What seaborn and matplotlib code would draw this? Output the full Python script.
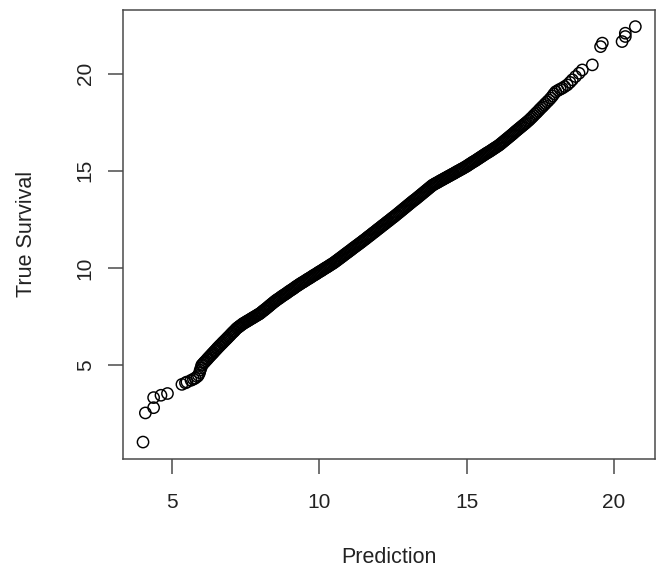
import matplotlib
matplotlib.use("Agg")
import matplotlib.pyplot as plt
import seaborn as sns
import numpy as np
import pandas as pd

# Sorted model predictions (x) against the observed survival times (y)
prediction = [
    4.01, 4.09, 4.37, 4.37, 4.62, 4.84,
    5.33, 5.45, 5.50, 5.64, 5.72, 5.78, 5.85, 5.89, 5.93, 5.95, 5.98, 6.00,
    6.03, 6.07, 6.10, 6.14, 6.18, 6.21, 6.25, 6.29, 6.33, 6.37, 6.40, 6.44, 6.48, 6.52, 6.55, 6.59, 6.62,
    6.66, 6.70, 6.73, 6.77, 6.81, 6.85, 6.88, 6.92, 6.96, 7.00, 7.04, 7.08, 7.11, 7.15, 7.19,
    7.23, 7.27, 7.30, 7.34, 7.38, 7.41,
    7.45, 7.49, 7.53, 7.56, 7.60, 7.64, 7.68, 7.72, 7.75, 7.79, 7.83, 7.87, 7.91, 7.94, 7.98,
    8.02, 8.06, 8.10, 8.13, 8.17, 8.21, 8.25, 8.29, 8.32, 8.36, 8.40, 8.44, 8.48, 8.51, 8.54,
    8.58, 8.62, 8.66, 8.70, 8.74, 8.78, 8.82, 8.86, 8.90, 8.94, 8.98, 9.02, 9.06, 9.10, 9.14,
    9.18, 9.22, 9.26, 9.30, 9.33,
    9.37, 9.41, 9.45, 9.49, 9.53, 9.57, 9.61, 9.65, 9.69, 9.73, 9.77, 9.81, 9.85, 9.89, 9.93,
    9.97, 10.01, 10.05, 10.09, 10.13, 10.17, 10.21, 10.25, 10.29, 10.33, 10.37, 10.41, 10.46,
    10.50, 10.54, 10.58, 10.62, 10.66, 10.70, 10.74, 10.78, 10.82, 10.86, 10.90, 10.94, 10.98,
    11.02, 11.06, 11.10, 11.14, 11.18, 11.22, 11.26, 11.30, 11.34, 11.38, 11.42, 11.46, 11.50,
    11.55, 11.59,
    11.63, 11.67, 11.71, 11.75, 11.79, 11.83, 11.87, 11.91, 11.95, 11.99, 12.03, 12.07, 12.11,
    12.15, 12.19, 12.23, 12.27, 12.31, 12.35, 12.39, 12.43, 12.47, 12.51, 12.55, 12.59, 12.63,
    12.68, 12.72,
    12.76, 12.80, 12.84, 12.88, 12.92, 12.96, 13.00, 13.04, 13.08, 13.12, 13.16, 13.20, 13.24,
    13.28, 13.32, 13.36, 13.40, 13.44, 13.48, 13.52, 13.56, 13.60, 13.64, 13.68, 13.72, 13.76,
    13.80, 13.84,
    13.88, 13.92, 13.96, 14.00, 14.04, 14.08, 14.12, 14.16, 14.20, 14.24, 14.28, 14.32, 14.36,
    14.40, 14.44, 14.48, 14.52, 14.56, 14.60, 14.64, 14.68, 14.72, 14.76, 14.80, 14.84, 14.88,
    14.93, 14.97,
    15.01, 15.05, 15.09, 15.13, 15.17, 15.21, 15.25, 15.29, 15.33, 15.37, 15.41, 15.45, 15.49,
    15.53, 15.57, 15.61, 15.65, 15.69, 15.73, 15.77, 15.81, 15.85, 15.89, 15.93, 15.97, 16.01,
    16.06, 16.10,
    16.14, 16.18, 16.22, 16.26, 16.30, 16.34, 16.38, 16.42, 16.46, 16.50, 16.54, 16.58, 16.62,
    16.66, 16.70, 16.74, 16.78, 16.82, 16.86, 16.90, 16.94, 16.98, 17.02, 17.07, 17.12,
    17.17, 17.22, 17.27, 17.32, 17.37, 17.42, 17.47, 17.52, 17.57, 17.62, 17.67, 17.73, 17.79,
    17.85, 17.91, 17.96, 18.02, 18.10, 18.17, 18.24, 18.32, 18.41, 18.50, 18.58, 18.69, 18.81,
    18.92,
    19.26, 19.54, 19.60, 20.27, 20.38, 20.38, 20.72,
]

true_survival = [
    1.03, 2.53, 2.80, 3.32, 3.44, 3.53,
    4.00, 4.08, 4.12, 4.21, 4.27, 4.32, 4.40, 4.47, 4.60, 4.73, 4.85, 4.98,
    5.03, 5.10, 5.15, 5.21, 5.28, 5.33, 5.40, 5.46, 5.53, 5.59, 5.64, 5.71, 5.77, 5.84, 5.89, 5.95, 6.00,
    6.06, 6.12, 6.17, 6.23, 6.29, 6.35, 6.40, 6.46, 6.52, 6.59, 6.65, 6.71, 6.75, 6.82, 6.88,
    6.93, 6.97, 7.01, 7.05, 7.10, 7.13,
    7.17, 7.20, 7.24, 7.27, 7.30, 7.34, 7.38, 7.41, 7.44, 7.48, 7.51, 7.55, 7.59, 7.61, 7.65,
    7.70, 7.75, 7.80, 7.83, 7.88, 7.93, 7.98, 8.03, 8.07, 8.12, 8.17, 8.22, 8.27, 8.30, 8.34,
    8.38, 8.42, 8.46, 8.51, 8.55, 8.59, 8.63, 8.67, 8.71, 8.76, 8.80, 8.84, 8.88, 8.92, 8.96,
    9.01, 9.05, 9.09, 9.13, 9.16,
    9.20, 9.24, 9.27, 9.31, 9.35, 9.39, 9.43, 9.46, 9.50, 9.54, 9.58, 9.62, 9.65, 9.69, 9.73,
    9.77, 9.81, 9.84, 9.88, 9.92, 9.96, 10.00, 10.03, 10.07, 10.11, 10.15, 10.19, 10.23,
    10.28, 10.32, 10.37, 10.41, 10.46, 10.50, 10.55, 10.59, 10.64, 10.69, 10.73, 10.78, 10.82,
    10.87, 10.91, 10.96, 11.01, 11.05, 11.10, 11.14, 11.19, 11.23, 11.28, 11.32, 11.37, 11.42,
    11.47, 11.52,
    11.57, 11.62, 11.66, 11.71, 11.76, 11.81, 11.85, 11.90, 11.95, 12.00, 12.04, 12.09, 12.14,
    12.19, 12.23, 12.28, 12.33, 12.38, 12.42, 12.47, 12.52, 12.57, 12.61, 12.66, 12.71, 12.76,
    12.82, 12.87,
    12.92, 12.97, 13.02, 13.07, 13.12, 13.17, 13.22, 13.27, 13.32, 13.37, 13.42, 13.47, 13.51,
    13.56, 13.61, 13.66, 13.71, 13.76, 13.81, 13.86, 13.91, 13.96, 14.01, 14.06, 14.11, 14.16,
    14.21, 14.26,
    14.29, 14.33, 14.36, 14.39, 14.43, 14.46, 14.50, 14.53, 14.56, 14.60, 14.63, 14.66, 14.70,
    14.73, 14.76, 14.80, 14.83, 14.86, 14.90, 14.93, 14.97, 15.00, 15.03, 15.07, 15.10, 15.13,
    15.18, 15.21,
    15.25, 15.29, 15.33, 15.37, 15.41, 15.45, 15.48, 15.52, 15.56, 15.60, 15.64, 15.68, 15.72,
    15.76, 15.80, 15.84, 15.88, 15.92, 15.95, 15.99, 16.03, 16.07, 16.11, 16.15, 16.19, 16.23,
    16.28, 16.32,
    16.37, 16.42, 16.47, 16.52, 16.57, 16.62, 16.67, 16.72, 16.77, 16.82, 16.87, 16.92, 16.98,
    17.03, 17.08, 17.13, 17.18, 17.23, 17.28, 17.33, 17.38, 17.43, 17.48, 17.55, 17.61,
    17.69, 17.76, 17.84, 17.92, 17.99, 18.07, 18.15, 18.23, 18.30, 18.38, 18.46, 18.55, 18.64,
    18.74, 18.85, 18.96, 19.07, 19.14, 19.20, 19.25, 19.33, 19.42, 19.55, 19.68, 19.85, 20.02,
    20.19,
    20.45, 21.39, 21.57, 21.65, 21.91, 22.08, 22.42,
]

x_ticks = [5, 10, 15, 20]
y_ticks = [5, 10, 15, 20]
x_label = "Prediction"
y_label = "True Survival"

df = pd.DataFrame({"Prediction": prediction, "True Survival": true_survival})

sns.set_style("white")
plt.rcParams["font.family"] = ["Liberation Sans", "DejaVu Sans"]
plt.rcParams["font.size"] = 15

fig = plt.figure(figsize=(6.57, 5.71), dpi=100)
ax = fig.add_axes([0.1877, 0.1967, 0.8093, 0.7858])

sns.scatterplot(
    data=df, x="Prediction", y="True Survival", ax=ax,
    marker="o", s=66, fc="none", ec="black", linewidth=1.05, legend=False,
)

# base-graphics style 4% padding around the data range
xmin, xmax = min(prediction), max(prediction)
ymin, ymax = min(true_survival), max(true_survival)
ax.set_xlim(xmin - 0.04 * (xmax - xmin), xmax + 0.04 * (xmax - xmin))
ax.set_ylim(ymin - 0.04 * (ymax - ymin), ymax + 0.04 * (ymax - ymin))

ax.set_xticks(x_ticks)
ax.set_yticks(y_ticks)

frame_col = "#4a4a4a"
for sp in ax.spines.values():
    sp.set_color(frame_col)
    sp.set_linewidth(1.1)
    sp.set_visible(True)

ax.tick_params(axis="both", which="major", direction="out", length=10.5, width=1.1,
               color=frame_col, labelsize=15, labelcolor="#222222",
               bottom=True, left=True, top=False, right=False)
ax.tick_params(axis="x", pad=14)
ax.tick_params(axis="y", pad=10, labelrotation=90)
for lab in ax.get_yticklabels():
    lab.set_va("center")

ax.set_xlabel(x_label, fontsize=15.5, color="#222222")
ax.set_ylabel(y_label, fontsize=15.5, color="#222222")
ax.xaxis.set_label_coords(0.5, -0.196)
ax.yaxis.set_label_coords(-0.163, 0.5)

fig.savefig("out.png", dpi=100)
